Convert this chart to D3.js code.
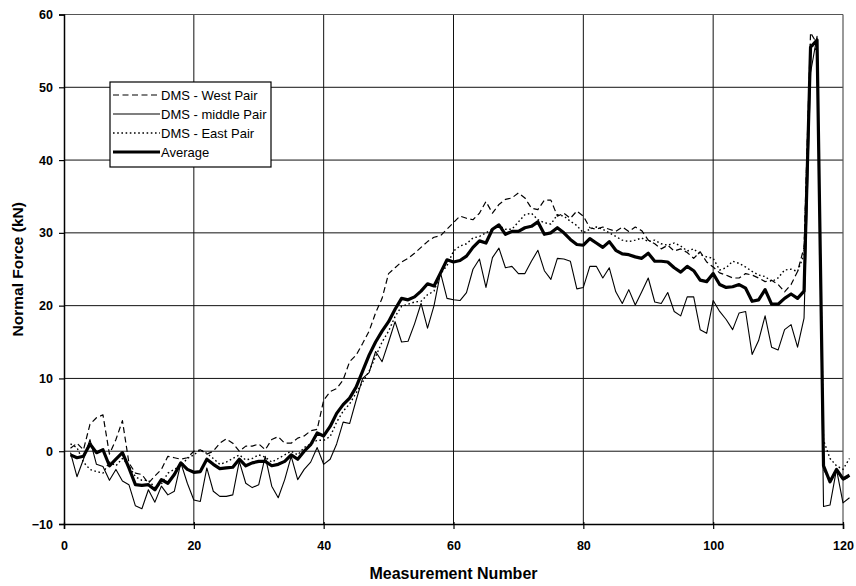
<!DOCTYPE html>
<html><head><meta charset="utf-8">
<script src="https://cdn.jsdelivr.net/npm/d3@7"></script>
<style>body{margin:0;background:#fff}svg{display:block}</style>
</head><body>
<svg id="c" width="856" height="586"></svg>
<script>
const seriesNames = ["DMS - West Pair","DMS - middle Pair","DMS - East Pair","Average"];
const xTicks = [0,20,40,60,80,100,120];
const yTicks = [-10,0,10,20,30,40,50,60];
// measurement numbers 1..121
const west = [0.4,1.1,0.2,3.7,4.6,5.0,-0.4,1.6,4.2,-1.6,-3.0,-3.2,-4.4,-3.4,-2.5,-0.7,-0.9,-1.1,-0.9,0,
0.2,-0.4,0,1.1,1.7,1.1,0,0.7,0.7,1.0,0.2,1.6,2.0,1.1,1.1,1.8,2.1,2.8,3.0,7.0,
8.2,8.6,9.8,12.3,13.2,14.8,16.5,19,21,24.4,25.2,26,26.5,27.2,28,28.8,29.4,29.6,30.5,31.4,
32.3,32,31.8,32.7,34.3,32.7,33.9,34.6,34.8,35.5,34.8,33.4,33.2,34.5,34.5,32.3,32.7,32,33,32.3,
30.7,30.5,30.8,30.5,30.2,30.8,30.2,30.8,30.3,29,28.5,27.8,28.3,27.5,27.8,27.3,26.5,27.4,26,25.3,
24.5,24.2,23.8,23.8,24.4,24.2,23.8,23.3,23.5,22.9,21.9,22.9,24.7,28,57.5,56,-2.5,-4,-2.5,-4,-3.5];
const middle = [-0.2,-3.5,-1.1,1.6,-1.8,-2.1,-4.0,-2.5,-4.1,-4.6,-7.5,-7.9,-5.3,-7.0,-4.8,-6.0,-5.5,-1.6,-4.4,-6.7,
-6.9,-2.3,-5.5,-6.2,-6.2,-6.0,-1.4,-4.4,-5.0,-4.6,-0.7,-4.8,-6.4,-3.9,-0.7,-3.9,-2.5,-1.5,0.5,-1.8,
-1.1,1.0,4.0,3.8,7.0,10,10.8,13.7,12.3,15,17.8,15,15.1,17.5,20.3,16.9,20,24.5,21,20.8,
20.7,21.8,25,26.4,22.5,26.6,27.9,25.2,25.4,24.4,24.4,26.1,27.6,24.8,23.6,26.5,26.4,26.1,22.3,22.5,
25.4,25.4,23.8,25.2,21.9,20.3,22.2,20.1,21.9,23.8,20.5,20.3,21.8,19.2,18.6,21.2,21.2,16.7,16.2,20.7,
19.2,18.1,16.7,19,19.2,13.3,15.2,18.6,14.3,13.9,16.7,17.4,14.3,18.3,52,57,-7.6,-7.4,-2.5,-7.1,-6.4];
const east = [1.0,0.5,-1.5,-2.5,-2.8,-3.0,-1.5,-2,-1,-2,-3.5,-4,-4,-5,-4.5,-3,-2.5,-2,-1,-0.5,
0.2,-0.3,-1,-1.8,-1.5,-1,-0.5,-1.2,-1,-0.5,-0.8,-1.5,-1,-0.5,0,-0.5,0.5,1,1.5,1.5,
2,4,5.5,6.5,8,9.5,11,13,15,16.5,18.5,19.9,20.2,20.5,20.6,21.5,22,24.4,25.5,27.5,
28.2,28.5,29.3,29.5,30,30.5,31,30.5,30.5,31.5,32.5,32.7,31.8,31.4,31.2,32.5,32.3,31.6,31,30,
30.5,30.8,30.5,30,29.5,29,28.8,29,29.3,28.8,29,28.5,28.3,28.6,28.2,27.5,27.8,27,26.7,26.5,
24.9,25.2,26.1,25.8,25.3,24.7,24.2,24,23.3,23.8,24.9,25,24.7,27,56,55,1.5,-1,-2,-2.5,-1];
const average = [-0.5,-0.9,-0.7,1.0,-0.2,0.2,-2.0,-1.1,-0.2,-2.3,-4.6,-4.7,-4.6,-5.3,-3.9,-4.4,-3.2,-1.6,-2.5,-2.9,
-2.8,-1.1,-1.8,-2.4,-2.3,-2.2,-1.1,-2.0,-1.6,-1.4,-1.4,-2.0,-1.8,-1.4,-0.5,-1.1,0,0.9,2.5,2.1,
3.4,5.2,6.4,7.3,8.8,11,13.2,15,16.5,17.8,19.5,21,20.8,21.2,22,23,22.7,24.5,26.3,26,
26.2,26.8,28,28.9,28.6,30.5,31.1,29.8,30.2,30.2,30.7,30.9,31.5,29.8,30,30.7,30,29.1,28.4,28.3,
29.2,28.6,28,28.8,27.6,27.1,27,26.7,26.5,27.2,26.1,26.1,26,25.2,24.6,25.4,24.8,23.5,23.3,24.4,
22.9,22.5,22.6,22.9,22.4,20.6,20.8,22.2,20.2,20.2,21,21.6,21,22,55.5,56.5,-2,-4.2,-2.5,-3.8,-3.3];

const svg = d3.select("#c");
const L=64, R=843, T=14.5, B=524;
const x = d3.scaleLinear().domain([0,120]).range([L,R]);
const y = d3.scaleLinear().domain([-10,60]).range([B,T]);
const font = "'Liberation Sans', Arial, sans-serif";

// gridlines
const g = svg.append("g");
g.selectAll(".hg").data(yTicks.filter(v=>v>-10 && v<60)).join("line")
  .attr("x1",L).attr("x2",R).attr("y1",d=>y(d)).attr("y2",d=>y(d))
  .attr("stroke","#111").attr("stroke-width",1);
g.selectAll(".vg").data(xTicks.filter(v=>v>0 && v<120)).join("line")
  .attr("y1",T).attr("y2",B).attr("x1",d=>x(d)).attr("x2",d=>x(d))
  .attr("stroke","#111").attr("stroke-width",1);
// top & right frame
svg.append("line").attr("x1",L).attr("x2",R).attr("y1",T).attr("y2",T).attr("stroke","#555").attr("stroke-width",1.2);
svg.append("line").attr("x1",R).attr("x2",R).attr("y1",T).attr("y2",B).attr("stroke","#555").attr("stroke-width",1.2);

// axes
const xAxis = d3.axisBottom(x).tickValues(xTicks).tickSize(5).tickPadding(12).tickFormat(d3.format("d"));
const yAxis = d3.axisLeft(y).tickValues(yTicks).tickSize(5).tickPadding(6).tickFormat(d3.format("d"));
const gx = svg.append("g").attr("transform",`translate(0,${B})`).call(xAxis);
const gy = svg.append("g").attr("transform",`translate(${L},0)`).call(yAxis);
[gx,gy].forEach(a=>{
  a.select(".domain").attr("stroke","#000").attr("stroke-width",1.5);
  a.selectAll(".tick line").attr("stroke","#000").attr("stroke-width",1.2);
  a.selectAll(".tick text").attr("fill","#000").style("font-family",font).style("font-size","12.5px").style("font-weight","bold");
});
gx.selectAll(".tick line").attr("y1",-2);

// series
const idx = d3.range(1,122);
const line = d3.line().x((d,i)=>x(idx[i])).y(d=>y(d));
const styles = [
  {data:west, w:1.2, dash:"6,3.5"},
  {data:middle, w:1.1, dash:null},
  {data:east, w:1.4, dash:"1.6,2.6"},
  {data:average, w:3.2, dash:null}
];
styles.forEach(s=>{
  svg.append("path").datum(s.data).attr("d",line).attr("fill","none")
    .attr("stroke","#000").attr("stroke-width",s.w)
    .attr("stroke-dasharray",s.dash).attr("stroke-linejoin","round");
});

// legend
const lg = svg.append("g");
lg.append("rect").attr("x",110).attr("y",82).attr("width",161).attr("height",85)
  .attr("fill","#fff").attr("stroke","#000").attr("stroke-width",1.2);
styles.forEach((s,i)=>{
  const yy = 95 + i*19;
  lg.append("line").attr("x1",113).attr("x2",160).attr("y1",yy).attr("y2",yy)
    .attr("stroke","#000").attr("stroke-width",s.w).attr("stroke-dasharray",s.dash);
  lg.append("text").attr("x",161).attr("y",yy+4.5).text(seriesNames[i])
    .style("font-family",font).style("font-size","13px").attr("fill","#000");
});

// titles
svg.append("text").attr("x",(L+R)/2).attr("y",579).attr("text-anchor","middle")
  .style("font-family",font).style("font-size","16px").style("font-weight","bold").text("Measurement Number");
svg.append("text").attr("transform",`translate(23,${(T+B)/2}) rotate(-90)`).attr("text-anchor","middle")
  .style("font-family",font).style("font-size","15.5px").style("font-weight","bold").text("Normal Force (kN)");
</script>
</body></html>
